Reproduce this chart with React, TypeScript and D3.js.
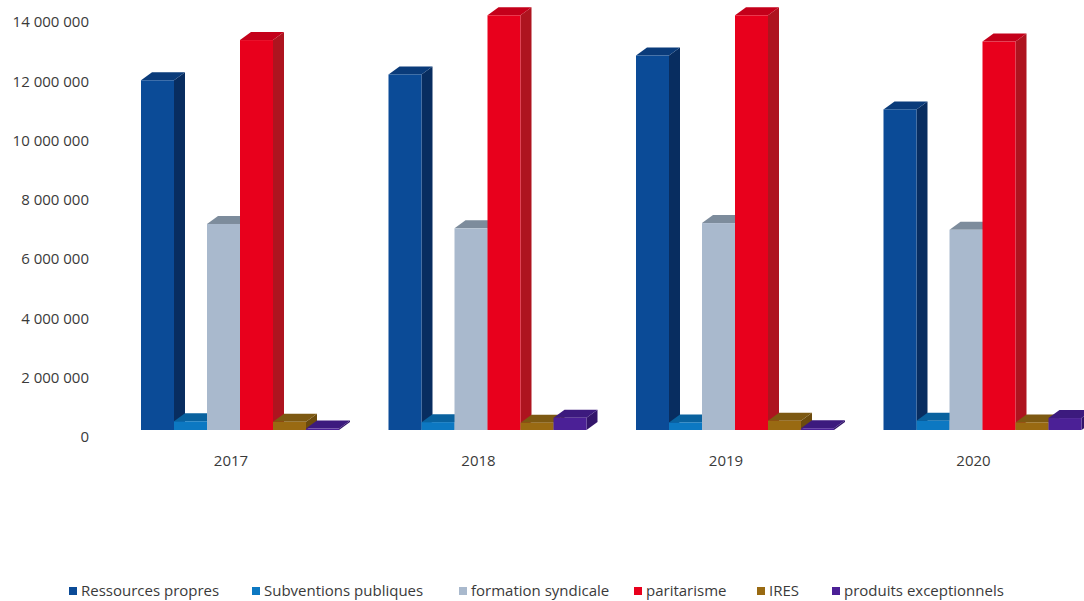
import React from "react";
import * as d3 from "d3";

const years = ["2017", "2018", "2019", "2020"];
const seriesNames = [
  "Ressources propres",
  "Subventions publiques",
  "formation syndicale",
  "paritarisme",
  "IRES",
  "produits exceptionnels",
];
const ressourcesPropres = [12000000, 12200000, 12850000, 11000000];
const subventionsPubliques = [300000, 270000, 260000, 320000];
const formationSyndicale = [7070000, 6920000, 7100000, 6870000];
const paritarisme = [13380000, 14230000, 14230000, 13330000];
const ires = [280000, 250000, 320000, 260000];
const produitsExceptionnels = [50000, 420000, 60000, 410000];
const tickValues = [0, 2000000, 4000000, 6000000, 8000000, 10000000, 12000000, 14000000];

const seriesValues = [
  ressourcesPropres,
  subventionsPubliques,
  formationSyndicale,
  paritarisme,
  ires,
  produitsExceptionnels,
];

const palette = [
  { front: "#0b4b97", side: "#082d60", top: "#0a3b7a" },
  { front: "#0c78c2", side: "#08588f", top: "#09629f" },
  { front: "#a9b9cd", side: "#8494a6", top: "#7d8c9c" },
  { front: "#e8001c", side: "#ae141f", top: "#c4001a" },
  { front: "#996a12", side: "#6c4b0d", top: "#7d5912" },
  { front: "#4b2096", side: "#33156a", top: "#3c1a7e" },
];

const W = 1084;
const H = 601;
const DX = 11;
const DY = -8;

export default function App() {
  const x = d3.scaleBand().domain(years).range([116.25, 1106.25]).paddingInner(0.2).paddingOuter(0.1);
  const inner = d3.scaleBand().domain(seriesNames).range([0, x.bandwidth()]);
  const barY = d3.scaleLinear().domain([0, 14000000]).range([430, 22]);
  const axisY = d3.scaleLinear().domain([0, 14000000]).range([437, 22]);
  const fmt = (v: number) => d3.format(",")(v).replace(/,/g, " ");

  const legendX = [69, 252, 459, 634, 757, 832];

  return (
    <svg width={W} height={H} style={{ position: "absolute", left: 0, top: 0, background: "#fff" }}
      fontFamily="'Open Sans', sans-serif">
      <rect x={0} y={0} width={W} height={H} fill="#ffffff" />
      {tickValues.map((t) => (
        <text key={t} x={89} y={axisY(t)} dy="0.35em" textAnchor="end" fontSize={15} fill="#3a3a3a">
          {fmt(t)}
        </text>
      ))}
      {years.map((yr, yi) => (
        <g key={yr}>
          {seriesNames.map((s, si) => {
            const v = seriesValues[si][yi];
            const x0 = (x(yr) as number) + (inner(s) as number);
            const w = inner.bandwidth();
            const yt = barY(v);
            const yb = barY(0);
            const c = palette[si];
            const top = `M${x0},${yt}L${x0 + DX},${yt + DY}L${x0 + w + DX},${yt + DY}L${x0 + w},${yt}Z`;
            const side = `M${x0 + w},${yt}L${x0 + w + DX},${yt + DY}L${x0 + w + DX},${yb + DY}L${x0 + w},${yb}Z`;
            return (
              <g key={s}>
                <path d={side} fill={c.side} />
                <path d={top} fill={c.top} />
                <rect x={x0} y={yt} width={w} height={yb - yt} fill={c.front} />
              </g>
            );
          })}
          <text x={(x(yr) as number) + x.bandwidth() / 2 - 9} y={461} dy="0.35em" textAnchor="middle"
            fontSize={15} fill="#3a3a3a">
            {yr}
          </text>
        </g>
      ))}
      {seriesNames.map((s, si) => (
        <g key={s}>
          <rect x={legendX[si]} y={587} width={8} height={8} fill={palette[si].front} />
          <text x={legendX[si] + 12} y={591} dy="0.35em" fontSize={15} fill="#3a3a3a">
            {s}
          </text>
        </g>
      ))}
    </svg>
  );
}
